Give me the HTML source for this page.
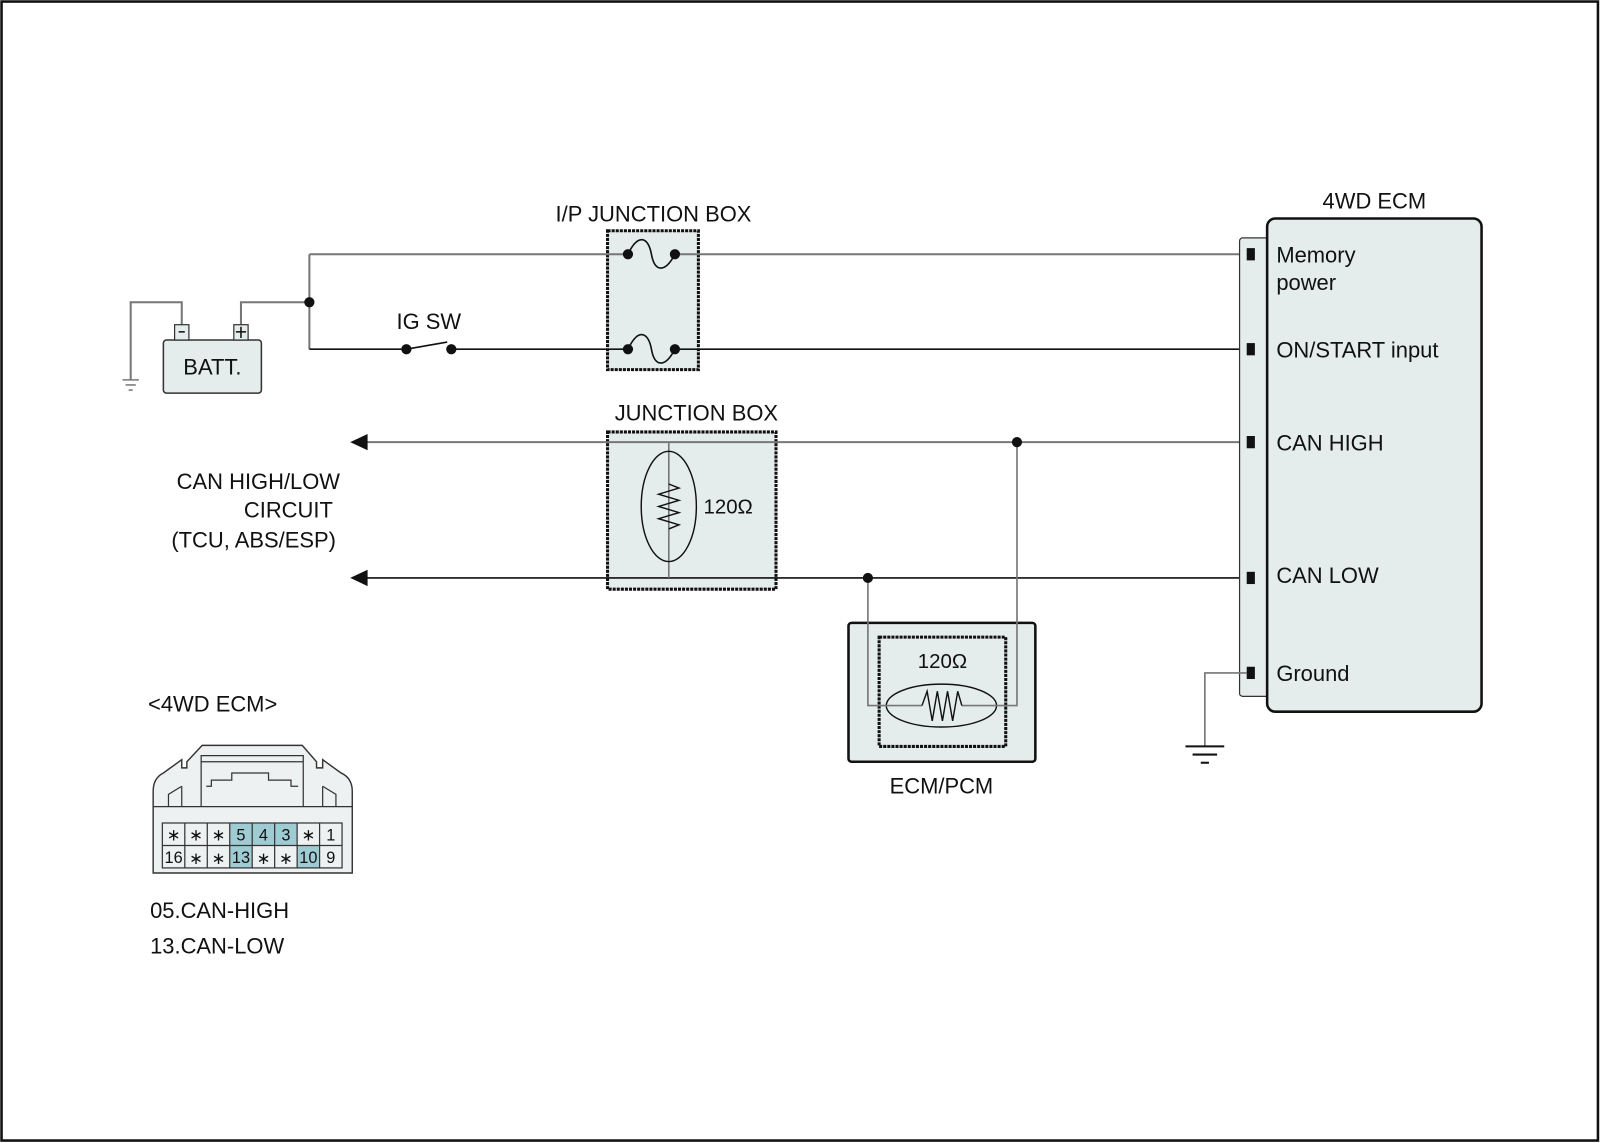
<!DOCTYPE html>
<html><head><meta charset="utf-8"><style>
html,body{margin:0;padding:0;background:#fff;}
svg{display:block;}
text{font-family:"Liberation Sans",Arial,sans-serif;fill:#111;}
</style></head><body>
<svg width="1600" height="1143" viewBox="0 0 1567 1119.4" preserveAspectRatio="none" xmlns="http://www.w3.org/2000/svg">
<rect x="1.5" y="1.5" width="1563.5" height="1115.5" fill="#fff" stroke="#111" stroke-width="2.5"/>

<rect x="595" y="226" width="89" height="136" fill="#e4ecec" stroke="#111" stroke-width="3" stroke-dasharray="3,1"/>
<text x="640" y="217" font-size="21.5" text-anchor="middle">I/P JUNCTION BOX</text>
<g stroke="#777" stroke-width="2" fill="none">
<line x1="303" y1="249" x2="615" y2="249"/>
<line x1="661" y1="249" x2="1222" y2="249"/>
<line x1="303" y1="249" x2="303" y2="342"/>
<polyline points="236,318 236,296 303,296"/>
<polyline points="178,318 178,296 128,296 128,372"/>
</g>
<g stroke="#111" stroke-width="1.6" fill="none">
<line x1="303" y1="342" x2="398" y2="342"/>
<line x1="398" y1="342" x2="438" y2="335"/>
<line x1="442" y1="342" x2="615" y2="342"/>
<line x1="661" y1="342" x2="1222" y2="342"/>
<path d="M615,249 C625,228 635,232 638,249 C641,266 651,268 661,249"/>
<path d="M615,342 C625,321 635,325 638,342 C641,359 651,361 661,342"/>
</g>
<g fill="#111">
<circle cx="303" cy="296" r="5"/>
<circle cx="398" cy="342" r="5"/><circle cx="442" cy="342" r="5"/>
<circle cx="615" cy="249" r="5"/><circle cx="661" cy="249" r="5"/>
<circle cx="615" cy="342" r="5"/><circle cx="661" cy="342" r="5"/>
</g>
<text x="420" y="322" font-size="21.5" text-anchor="middle">IG SW</text>
<g stroke="#777" stroke-width="1.5"><line x1="120" y1="372" x2="136" y2="372"/><line x1="123" y1="377" x2="133" y2="377"/><line x1="126" y1="382" x2="130" y2="382"/></g>
<rect x="160" y="333" width="96" height="52" rx="3" fill="#e4ecec" stroke="#333" stroke-width="1.5"/>
<rect x="171" y="318" width="14" height="15" fill="#e4ecec" stroke="#333" stroke-width="1.2"/>
<rect x="229" y="318" width="14" height="15" fill="#e4ecec" stroke="#333" stroke-width="1.2"/>
<line x1="175" y1="325" x2="181" y2="325" stroke="#111" stroke-width="1.5"/>
<line x1="231" y1="325" x2="241" y2="325" stroke="#111" stroke-width="1.5"/><line x1="236" y1="320" x2="236" y2="331" stroke="#111" stroke-width="1.5"/>
<text x="208" y="367" font-size="21.5" text-anchor="middle">BATT.</text>

<rect x="595" y="423" width="165" height="154" fill="#e4ecec" stroke="#111" stroke-width="3" stroke-dasharray="3,1"/>
<text x="682" y="412" font-size="21.5" text-anchor="middle">JUNCTION BOX</text>
<line x1="358" y1="433" x2="1222" y2="433" stroke="#777" stroke-width="2"/>
<line x1="358" y1="566" x2="1222" y2="566" stroke="#111" stroke-width="1.6"/>
<polygon points="343,433 360,425 360,441" fill="#111"/>
<polygon points="343,566 360,558 360,574" fill="#111"/>
<line x1="655" y1="433" x2="655" y2="566" stroke="#777" stroke-width="1.6"/>
<ellipse cx="655" cy="496" rx="27" ry="54" fill="none" stroke="#111" stroke-width="1.4"/>
<polyline points="655,474 665,478 645,484 665,490 645,496 665,502 645,508 665,514 655,518" fill="none" stroke="#111" stroke-width="1.4"/>
<text x="689" y="503" font-size="20">120Ω</text>
<text x="333" y="479" font-size="21.5" text-anchor="end">CAN HIGH/LOW </text>
<text x="326" y="507" font-size="21.5" text-anchor="end">CIRCUIT</text>
<text x="329" y="536" font-size="21.5" text-anchor="end">(TCU, ABS/ESP)</text>

<rect x="831" y="610" width="183" height="136" rx="3" fill="#e4ecec" stroke="#111" stroke-width="2.5"/>
<rect x="861" y="624" width="124" height="107" fill="none" stroke="#111" stroke-width="3" stroke-dasharray="3,1"/>
<text x="923" y="654" font-size="20" text-anchor="middle">120Ω</text>
<ellipse cx="922" cy="691" rx="54" ry="21" fill="none" stroke="#111" stroke-width="1.4"/>
<g stroke="#777" stroke-width="1.6" fill="none">
<polyline points="996,433 996,691 942,691"/>
<polyline points="850,566 850,691 903,691"/>
</g>
<polyline points="903,691 908,677 913,706 918,677 923,706 928,677 933,706 938,677 942,691" fill="none" stroke="#111" stroke-width="1.4"/>
<circle cx="996" cy="433" r="5" fill="#111"/><circle cx="850" cy="566" r="5" fill="#111"/>
<text x="922" y="777" font-size="21.5" text-anchor="middle">ECM/PCM</text>

<rect x="1214" y="233" width="30" height="449" rx="3" fill="#e4ecec" stroke="#333" stroke-width="1.2"/>
<rect x="1241" y="214" width="210" height="483" rx="8" fill="#e4ecec" stroke="#111" stroke-width="2.5"/>
<text x="1346" y="204" font-size="21.5" text-anchor="middle">4WD ECM</text>
<g fill="#111">
<rect x="1221" y="243" width="8" height="12"/><rect x="1221" y="336" width="8" height="12"/>
<rect x="1221" y="427" width="8" height="12"/><rect x="1221" y="560" width="8" height="12"/>
<rect x="1221" y="653" width="8" height="12"/>
</g>
<g font-size="21.5">
<text x="1250" y="257">Memory</text><text x="1250" y="284">power</text>
<text x="1250" y="350">ON/START input</text>
<text x="1250" y="441">CAN HIGH</text>
<text x="1250" y="571">CAN LOW</text>
<text x="1250" y="667">Ground</text>
</g>
<polyline points="1221,659 1180,659 1180,731" fill="none" stroke="#777" stroke-width="1.6"/>
<g stroke="#111" stroke-width="2"><line x1="1161" y1="731" x2="1199" y2="731"/><line x1="1168" y1="739" x2="1192" y2="739"/><line x1="1176" y1="747" x2="1184" y2="747"/></g>

<text x="145" y="697" font-size="21.5">&lt;4WD ECM&gt;</text>
<path d="M150,855 L150,775 Q150,762 160,757 L178,744 L178,752 L183,752 L183,746 L198,730 L296,730 L310,746 L310,752 L316,752 L316,744 L334,757 Q345,762 345,775 L345,855 Z" fill="#eef1f1" stroke="#333" stroke-width="1.4"/>
<g fill="none" stroke="#333" stroke-width="1.2">
<polyline points="197,790 197,740 297,740 297,790"/>
<line x1="197" y1="746" x2="297" y2="746"/>
<polyline points="202,770 207,770 207,764 227,764 227,757 263,757 263,764 285,764 285,770 292,770"/>
<line x1="150" y1="790" x2="345" y2="790"/>
<polyline points="165,790 165,778 178,770"/><polyline points="329,790 329,778 316,770"/>
<line x1="178" y1="770" x2="178" y2="790"/><line x1="316" y1="770" x2="316" y2="790"/>
</g>
<g>
<rect x="225" y="806" width="66" height="22" fill="#9fcbd3"/>
<rect x="225" y="828" width="22" height="22" fill="#9fcbd3"/>
<rect x="291" y="828" width="22" height="22" fill="#9fcbd3"/>
</g>
<g fill="none" stroke="#333" stroke-width="1.2">
<rect x="159" y="806" width="176" height="44"/>
<line x1="159" y1="828" x2="335" y2="828"/>
<line x1="181" y1="806" x2="181" y2="850"/><line x1="203" y1="806" x2="203" y2="850"/>
<line x1="225" y1="806" x2="225" y2="850"/><line x1="247" y1="806" x2="247" y2="850"/>
<line x1="269" y1="806" x2="269" y2="850"/><line x1="291" y1="806" x2="291" y2="850"/>
<line x1="313" y1="806" x2="313" y2="850"/>
</g>
<g font-size="16" text-anchor="middle">
<text x="170" y="823">∗</text><text x="192" y="823">∗</text><text x="214" y="823">∗</text>
<text x="236" y="823">5</text><text x="258" y="823">4</text><text x="280" y="823">3</text>
<text x="302" y="823">∗</text><text x="324" y="823">1</text>
<text x="170" y="845">16</text><text x="192" y="846">∗</text><text x="214" y="846">∗</text>
<text x="236" y="845">13</text><text x="258" y="846">∗</text><text x="280" y="846">∗</text>
<text x="302" y="845">10</text><text x="324" y="845">9</text>
</g>
<text x="147" y="899" font-size="21.5">05.CAN-HIGH</text>
<text x="147" y="934" font-size="21.5">13.CAN-LOW</text>
</svg>
</body></html>
